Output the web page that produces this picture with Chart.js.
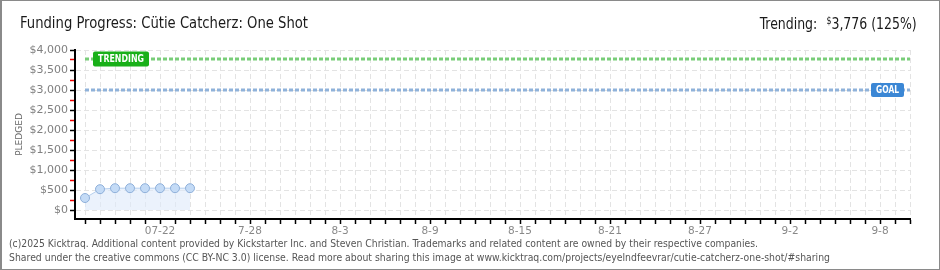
<!DOCTYPE html>
<html>
<head>
<meta charset="utf-8">
<script src="https://cdn.jsdelivr.net/npm/chart.js@4/dist/chart.umd.min.js"></script>
<style>
  html, body { margin: 0; padding: 0; background: #fff; }
  #wrap { position: relative; width: 940px; height: 270px; overflow: hidden; background: #fff; }
  #frame { position: absolute; left: 0; top: 0; width: 940px; height: 270px; box-sizing: border-box; border: 1px solid #8a8a8a; border-left-width: 2px; pointer-events: none; }
  canvas { position: absolute; left: 0; top: 0; }
  .txt { position: absolute; white-space: nowrap; font-family: "DejaVu Sans Condensed", "DejaVu Sans", sans-serif; }
  #title { left: 20px; top: 15px; font-size: 16px; line-height: 16px; color: #1a1a1a; transform-origin: left center; }
  #trend { right: 23px; top: 13px; font-size: 16px; line-height: 16px; color: #1a1a1a; transform-origin: right center; }
  #trend sup { font-size: 10px; vertical-align: 5px; margin-left: 6px; }
  .foot { left: 9px; font-size: 10px; line-height: 11px; color: #555; transform-origin: left center; }
  #f1 { top: 238px; }
  #f2 { top: 252px; }
</style>
</head>
<body>
<div id="wrap">
  <canvas id="c" width="940" height="270"></canvas>
  <div id="title" class="txt">Funding Progress: Cütie Catcherz: One Shot</div>
  <div id="trend" class="txt">Trending: <sup>$</sup>3,776 (125%)</div>
  <div id="f1" class="txt foot">(c)2025 Kicktraq. Additional content provided by Kickstarter Inc. and Steven Christian. Trademarks and related content are owned by their respective companies.</div>
  <div id="f2" class="txt foot">Shared under the creative commons (CC BY-NC 3.0) license. Read more about sharing this image at www.kicktraq.com/projects/eyelndfeevrar/cutie-catcherz-one-shot/#sharing</div>
  <div id="frame"></div>
</div>
<script>
// ---- data ----
const startDate = "2025-07-17";
const totalDays = 55;                       // campaign length in days (07-17 .. 09-10)
const pledgeDays = [0, 1, 2, 3, 4, 5, 6, 7];
const pledged = [300, 520, 545, 545, 545, 545, 545, 545];
const goal = 3000;
const trending = 3776;
const tickDays = [5, 11, 17, 23, 29, 35, 41, 47, 53];
const tickLabels = ["07-22", "7-28", "8-3", "8-9", "8-15", "8-21", "8-27", "9-2", "9-8"];
const yMax = 4000;
const yStep = 250;
const yLabelStep = 500;

// ---- fit header/footer text widths ----
function fitWidth(id, w) {
  const el = document.getElementById(id);
  const cur = el.getBoundingClientRect().width;
  el.style.transform = "scaleX(" + (w / cur) + ")";
}
fitWidth("title", 288);
fitWidth("trend", 157);
fitWidth("f1", 749);
fitWidth("f2", 821);

const fontFam = "'DejaVu Sans', sans-serif";

const labelPlugin = {
  id: "lineLabels",
  afterDatasetsDraw(chart) {
    const {ctx, scales: {x, y}} = chart;
    function box(text, left, cy, w, h, bg, tw) {
      ctx.save();
      ctx.fillStyle = bg;
      ctx.beginPath();
      ctx.roundRect(left, cy - h / 2, w, h, 2);
      ctx.fill();
      ctx.fillStyle = "#fff";
      ctx.font = "bold 10px " + fontFam;
      ctx.textBaseline = "middle";
      ctx.textAlign = "left";
      const m = ctx.measureText(text).width;
      const sx = tw / m;
      ctx.translate(left + (w - tw) / 2, cy + 0.5);
      ctx.scale(sx, 1);
      ctx.fillText(text, 0, 0);
      ctx.restore();
    }
    box("TRENDING", x.getPixelForValue(0) + 8, y.getPixelForValue(trending), 56, 15, "#19b019", 46);
    box("GOAL", x.getPixelForValue(totalDays) - 39, y.getPixelForValue(goal), 33, 14, "#3b87d5", 23);
  }
};

new Chart(document.getElementById("c"), {
  type: "line",
  data: {
    datasets: [
      {
        data: pledgeDays.map((d, i) => ({x: d, y: pledged[i]})),
        borderColor: "#b5cfee",
        borderWidth: 1,
        backgroundColor: "rgba(222,234,250,0.6)",
        fill: "origin",
        pointRadius: 4.5,
        pointBackgroundColor: "#c4dbf6",
        pointBorderColor: "#8eafd9",
        pointBorderWidth: 1,
        tension: 0,
        order: 1
      },
      {
        data: [{x: 0, y: trending}, {x: totalDays, y: trending}],
        borderColor: "#79cd79",
        borderWidth: 3,
        borderDash: [4, 2],
        pointRadius: 0,
        fill: false,
        order: 2
      },
      {
        data: [{x: 0, y: goal}, {x: totalDays, y: goal}],
        borderColor: "#8fb2da",
        borderWidth: 3,
        borderDash: [4, 2],
        pointRadius: 0,
        fill: false,
        order: 2
      }
    ]
  },
  options: {
    responsive: false,
    animation: false,
    events: [],
    layout: { padding: { left: 0, top: 50, right: 30, bottom: 0 } },
    plugins: { legend: { display: false }, tooltip: { enabled: false } },
    scales: {
      x: {
        type: "linear",
        min: -10 / 15,
        max: totalDays,
        bounds: "data",
        afterBuildTicks: s => { s.ticks = Array.from({length: totalDays + 1}, (_, i) => ({value: i})); },
        afterFit: s => { s.height = 51; },
        border: { display: true, color: "#000", width: 2, dash: [5, 3] },
        grid: {
          color: "#e3e3e3",
          lineWidth: 1,
          drawTicks: true,
          tickLength: 5,
          tickColor: "#000",
          tickWidth: 1.5
        },
        ticks: {
          autoSkip: false,
          maxRotation: 0,
          padding: 1,
          color: "#888",
          font: { family: fontFam, size: 10.5 },
          callback: v => { const i = tickDays.indexOf(v); return i >= 0 ? tickLabels[i] : ""; }
        }
      },
      y: {
        type: "linear",
        min: -225,
        max: yMax,
        bounds: "data",
        afterBuildTicks: s => {
          const t = [];
          for (let v = 0; v <= yMax; v += yStep) t.push({value: v});
          s.ticks = t;
        },
        afterFit: s => { s.width = 75; },
        border: { display: true, color: "#000", width: 2, dash: [5, 3] },
        grid: {
          color: c => (c.tick && c.tick.value % yLabelStep === 0) ? "#e3e3e3" : "rgba(0,0,0,0)",
          lineWidth: 1,
          drawTicks: true,
          tickLength: 5,
          tickColor: c => (c.tick && c.tick.value % yLabelStep === 0) ? "#000" : "#e00",
          tickWidth: 1.5
        },
        ticks: {
          autoSkip: false,
          padding: 2,
          color: "#808080",
          font: { family: fontFam, size: 11 },
          callback: v => (v % yLabelStep === 0) ? "$" + v.toLocaleString("en-US") : ""
        },
        title: {
          display: true,
          text: "PLEDGED",
          color: "#666",
          font: { family: fontFam, size: 9 },
          padding: { top: 14, bottom: 0 }
        }
      }
    }
  },
  plugins: [labelPlugin]
});
</script>
</body>
</html>
